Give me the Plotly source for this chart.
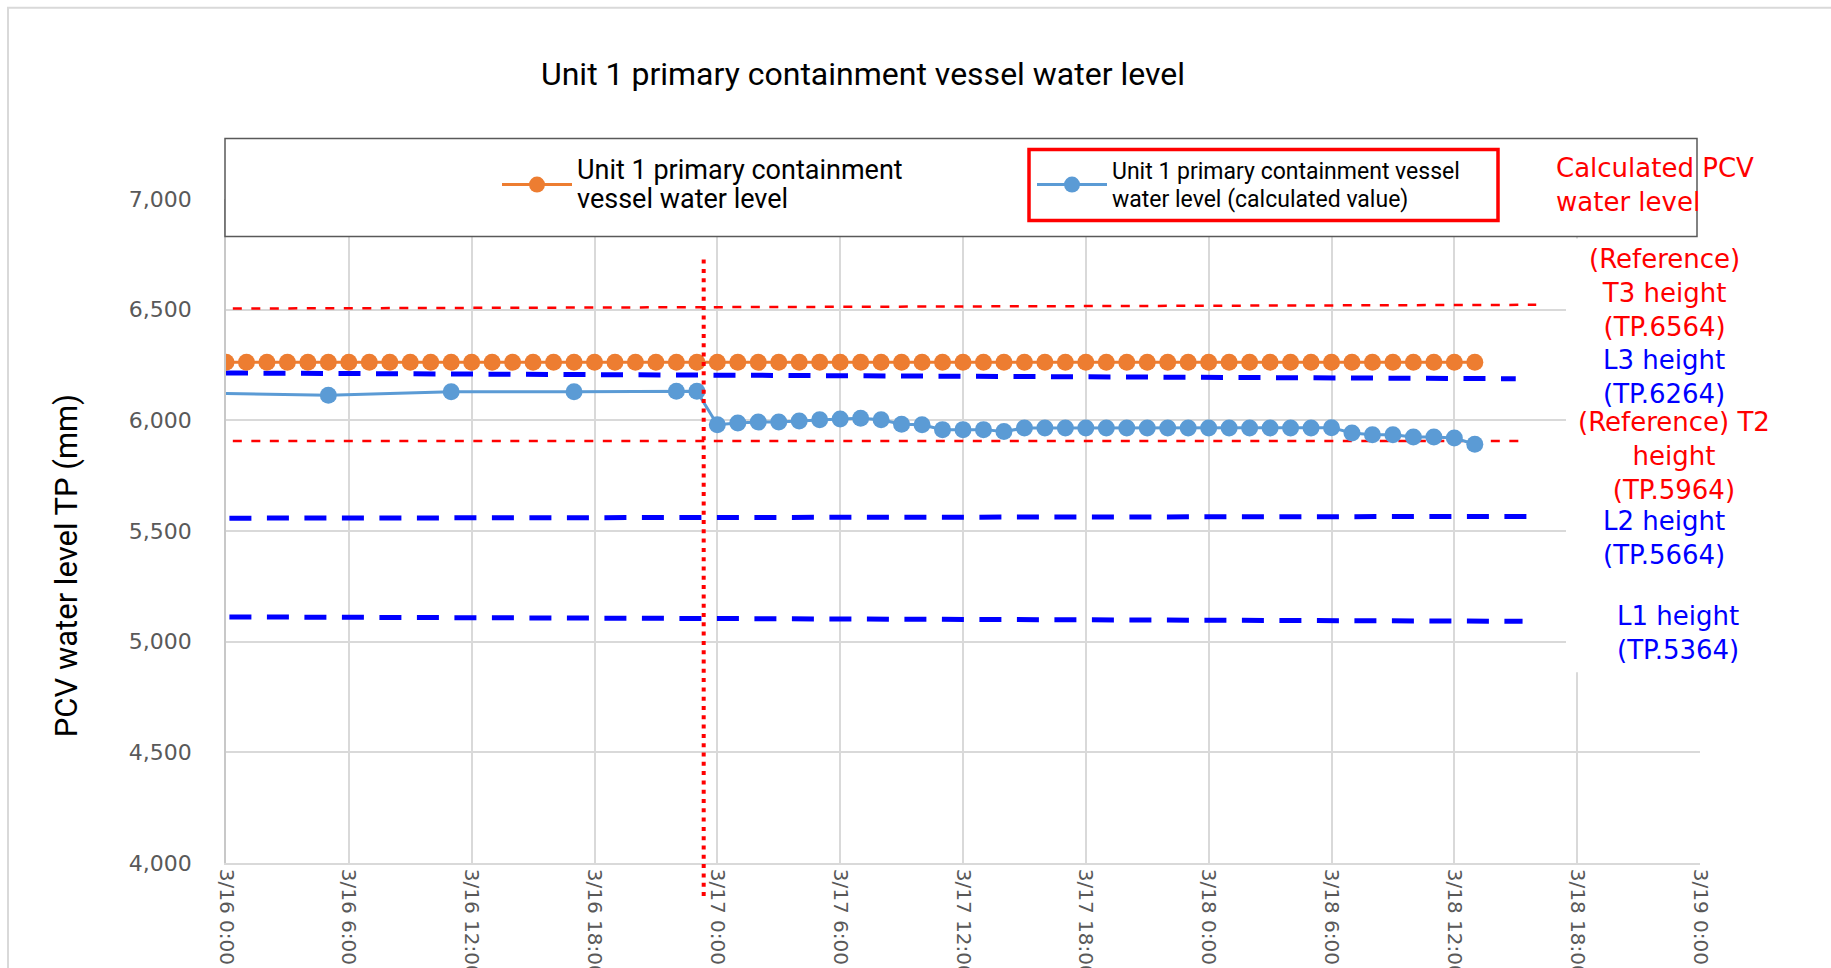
import plotly.graph_objects as go
import pandas as pd

# ---------------- data ----------------
# Unit 1 PCV water level (measured), hourly 3/16 0:00 - 3/18 13:00
orange_times = pd.date_range("2022-03-16 00:00", "2022-03-18 13:00", freq="h")
orange_values = [
    6262, 6262, 6262, 6262, 6262, 6262, 6262, 6262, 6262, 6262, 6262, 6262,
    6262, 6262, 6262, 6262, 6262, 6262, 6262, 6262, 6262, 6262, 6262, 6262,
    6262, 6262, 6262, 6262, 6262, 6262, 6262, 6262, 6262, 6262, 6262, 6262,
    6262, 6262, 6262, 6262, 6262, 6262, 6262, 6262, 6262, 6262, 6262, 6262,
    6262, 6262, 6262, 6262, 6262, 6262, 6262, 6262, 6262, 6262, 6262, 6262,
    6262, 6262,
]

# Unit 1 PCV water level (calculated value)
# (the line enters from the axis at 3/16 0:00 without a visible marker)
blue_start_time = "2022-03-16 00:00"
blue_start_value = 6121
blue_times = (
    list(pd.to_datetime(["2022-03-16 05:00", "2022-03-16 11:00",
                         "2022-03-16 17:00", "2022-03-16 22:00", "2022-03-16 23:00"]))
    + list(pd.date_range("2022-03-17 00:00", "2022-03-18 13:00", freq="h"))
)
blue_values = [
    6113, 6129, 6129, 6131, 6131,
    # 3/17 0:00 - 23:00
    5980, 5988, 5992, 5992, 5997, 6003, 6006, 6009, 6003, 5982, 5980, 5958,
    5958, 5958, 5950, 5965, 5965, 5965, 5965, 5965, 5965, 5965, 5965, 5965,
    # 3/18 0:00 - 13:00
    5965, 5965, 5965, 5965, 5965, 5965, 5967, 5943, 5935, 5935, 5925, 5925,
    5920, 5892,
]

# hand-drawn reference height lines: [start time, end time], [left value, right value]
t3_times = ["2022-03-16 00:20", "2022-03-18 16:00"]
t3_values = [6505, 6522]
l3_times = ["2022-03-16 00:00", "2022-03-18 15:00"]
l3_values = [6214, 6188]
t2_times = ["2022-03-16 00:20", "2022-03-18 15:10"]
t2_values = [5907, 5907]
l2_times = ["2022-03-16 00:10", "2022-03-18 15:45"]
l2_values = [5558, 5566]
l1_times = ["2022-03-16 00:10", "2022-03-18 15:20"]
l1_values = [5112, 5092]

event_time = "2022-03-16 23:20"

tick_times = pd.date_range("2022-03-16 00:00", "2022-03-19 00:00", freq="6h")
tick_labels = ["3/16 0:00", "3/16 6:00", "3/16 12:00", "3/16 18:00",
               "3/17 0:00", "3/17 6:00", "3/17 12:00", "3/17 18:00",
               "3/18 0:00", "3/18 6:00", "3/18 12:00", "3/18 18:00", "3/19 0:00"]
y_ticks = [4000, 4500, 5000, 5500, 6000, 6500, 7000]

# ---------------- layout helpers ----------------
W, H = 1831, 968
ML, MR, MT, MB = 226, 131, 198.5, 105
PW, PH = W - ML - MR, H - MT - MB


def px(x):
    return (x - ML) / PW


def py(y):
    return (H - MB - y) / PH


ORANGE = "#ED7D31"
BLUE = "#5B9BD5"
RED = "#FF0000"
DBLUE = "#0000FF"
SANS = "Roboto, 'Open Sans', sans-serif"
VERD = "'DejaVu Sans', Verdana, sans-serif"

fig = go.Figure()

# reference lines
for tt, vv, col, wd, dash in [
    (t3_times, t3_values, RED, 2.5, "9px,9.5px"),
    (t2_times, t2_values, RED, 2.5, "9px,9.5px"),
    (l3_times, l3_values, DBLUE, 5, "22px,15.5px"),
    (l2_times, l2_values, DBLUE, 5, "22px,15.5px"),
    (l1_times, l1_values, DBLUE, 5, "22px,15.5px"),
]:
    fig.add_trace(go.Scatter(x=pd.to_datetime(tt), y=vv, mode="lines",
                             line=dict(color=col, width=wd, dash=dash),
                             showlegend=False, hoverinfo="skip"))

fig.add_trace(go.Scatter(
    x=orange_times, y=orange_values, mode="lines+markers",
    name="<span style='font-size:27px'>Unit 1 primary containment</span><br>"
         "<span style='font-size:27px'>vessel water level</span>",
    line=dict(color=ORANGE, width=3),
    marker=dict(color=ORANGE, size=17),
))

# entering segment of the calculated series (no marker at the axis)
fig.add_trace(go.Scatter(
    x=[pd.Timestamp(blue_start_time), blue_times[0]], y=[blue_start_value, blue_values[0]],
    mode="lines", line=dict(color=BLUE, width=3), showlegend=False, hoverinfo="skip",
))
fig.add_trace(go.Scatter(
    x=blue_times, y=blue_values, mode="lines+markers",
    name="<span style='font-size:23px'>Unit 1 primary containment vessel</span><br>"
         "<span style='font-size:23px'>water level (calculated value)</span>",
    line=dict(color=BLUE, width=3),
    marker=dict(color=BLUE, size=17),
))

shapes = [
    # legend box
    dict(type="rect", xref="paper", yref="paper", x0=px(225), x1=px(1697), y0=py(236), y1=py(138),
         line=dict(color="#595959", width=1.5), fillcolor="white", layer="above"),
    # white area behind right labels
    dict(type="rect", xref="paper", yref="paper", x0=px(1566), x1=px(1780), y0=py(672), y1=py(238),
         line=dict(width=0), fillcolor="white", layer="above"),
    # red highlight box
    dict(type="rect", xref="paper", yref="paper", x0=px(1029), x1=px(1498), y0=py(220), y1=py(149),
         line=dict(color=RED, width=3.5), fillcolor="rgba(0,0,0,0)", layer="above"),
    # red dotted vertical
    dict(type="line", xref="x", yref="paper", x0=event_time, x1=event_time, y0=py(896), y1=py(257),
         line=dict(color=RED, width=4, dash="4px,5.3px"), layer="above"),
    # outer light frame
    dict(type="rect", xref="paper", yref="paper", x0=px(8), x1=px(1900), y0=py(1100), y1=py(7),
         line=dict(color="#d9d9d9", width=2), fillcolor="rgba(0,0,0,0)", layer="above"),
]

annotations = [
    dict(text="PCV water level TP (mm)", x=px(66), y=py(566), textangle=-90,
         font=dict(family=SANS, size=31, color="black")),
    dict(text="Calculated PCV<br>water level", x=px(1554), y=py(184), xanchor="left", align="left",
         font=dict(family=VERD, size=26, color=RED)),
    dict(text="(Reference)<br>T3 height<br>(TP.6564)", x=px(1664), y=py(293),
         font=dict(family=VERD, size=26, color=RED)),
    dict(text="L3 height<br>(TP.6264)", x=px(1664), y=py(377),
         font=dict(family=VERD, size=26, color=DBLUE)),
    dict(text="(Reference) T2<br>height<br>(TP.5964)", x=px(1674), y=py(456),
         font=dict(family=VERD, size=26, color=RED)),
    dict(text="L2 height<br>(TP.5664)", x=px(1664), y=py(538),
         font=dict(family=VERD, size=26, color=DBLUE)),
    dict(text="L1 height<br>(TP.5364)", x=px(1678), y=py(633),
         font=dict(family=VERD, size=26, color=DBLUE)),
]
for a in annotations:
    a.setdefault("xref", "paper")
    a.setdefault("yref", "paper")
    a.setdefault("showarrow", False)
    a.setdefault("xanchor", "center")
    a.setdefault("yanchor", "middle")
    a.setdefault("align", "center")

fig.update_layout(
    width=W, height=H,
    margin=dict(l=ML, r=MR, t=MT, b=MB, autoexpand=False),
    paper_bgcolor="white", plot_bgcolor="white",
    template="none",
    title=dict(text="Unit 1 primary containment vessel water level",
               x=px(863), xref="paper", xanchor="center",
               y=1 - 73.5 / H, yref="container", yanchor="middle",
               font=dict(family=SANS, size=32, color="black")),
    legend=dict(orientation="h", x=px(497), y=py(184.5), xanchor="left", yanchor="middle",
                entrywidth=450, itemwidth=70, bgcolor="rgba(0,0,0,0)", borderwidth=0,
                font=dict(family=SANS, size=22, color="black"), valign="middle"),
    shapes=shapes, annotations=annotations,
    xaxis=dict(type="date", range=["2022-03-16 00:00", "2022-03-19 00:00"],
               tickvals=tick_times, ticktext=tick_labels, tickangle=90,
               showgrid=True, gridcolor="#d9d9d9", gridwidth=1.5,
               showline=True, linecolor="#d9d9d9", linewidth=1.5,
               ticks="", zeroline=False, automargin=False,
               tickfont=dict(family=VERD, size=20, color="#595959")),
    yaxis=dict(range=[4000, 7000], tickvals=y_ticks, tickformat=",",
               showgrid=True, gridcolor="#d9d9d9", gridwidth=1.5,
               showline=True, linecolor="#c8c8c8", linewidth=1.5,
               ticks="outside", ticklen=28, tickcolor="rgba(0,0,0,0)",
               zeroline=False, automargin=False,
               tickfont=dict(family=VERD, size=22, color="#595959")),
)

fig.write_html("out.html", config={"displayModeBar": False},
               post_script="document.body.style.margin='0';document.body.style.overflow='hidden';")
